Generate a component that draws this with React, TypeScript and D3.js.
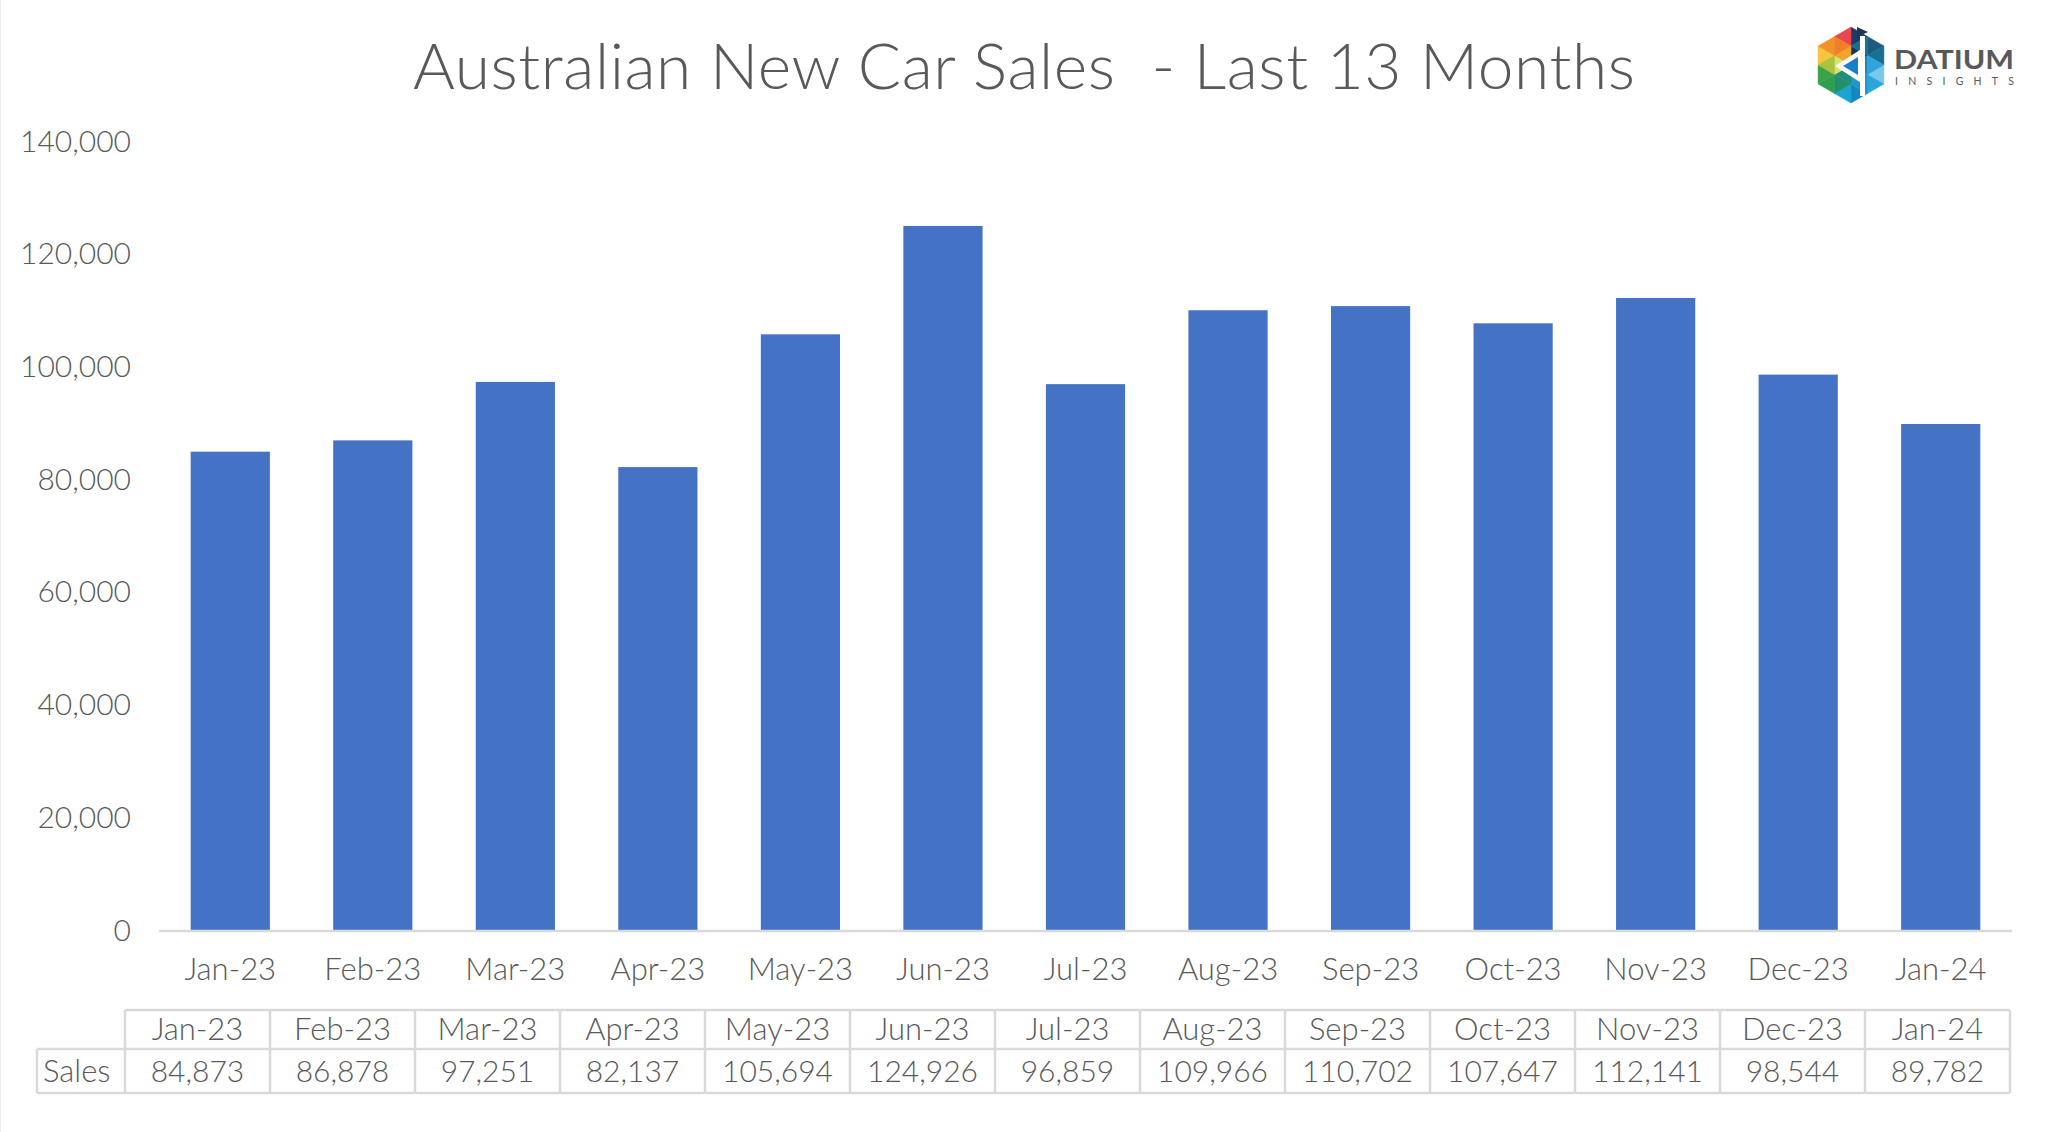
import React from "react";
import * as d3 from "d3";

const months = ["Jan-23","Feb-23","Mar-23","Apr-23","May-23","Jun-23","Jul-23","Aug-23","Sep-23","Oct-23","Nov-23","Dec-23","Jan-24"];
const sales = [84873, 86878, 97251, 82137, 105694, 124926, 96859, 109966, 110702, 107647, 112141, 98544, 89782];
const yTicks = [0, 20000, 40000, 60000, 80000, 100000, 120000, 140000];
const title = "Australian New Car Sales  - Last 13 Months";
const rowLabel = "Sales";

const W = 2048, H = 1132;
const FONT = "Lato, 'Noto Sans', sans-serif";
const TXT = "#595959";
const GRID = "#d9d9d9";
const BAR = "#4472C4";
const FW = 300;

// logo sector colours (top-right, right, bottom-right, bottom-left, left, top-left)
const logoColors = [
  ["#1d3557", "#1f3b63", "#1c5a7e", "#16708f"],
  ["#1f86b5", "#1a6f95", "#7cc8ea", "#2ea3dc"],
  ["#1b9bd1", "#2aa6dc", "#1487c2", "#1f95c8"],
  ["#1e8f78", "#1aa3d4", "#2e9e4f", "#22906a"],
  ["#d7e46a", "#3aa24b", "#f4c63d", "#a9c23f"],
  ["#f0a42a", "#f3922a", "#e8454f", "#f07f26"],
];

function Logo() {
  const cx = 1851, cy = 65, R = 38;
  const V = d3.range(6).map((k) => {
    const a = ((-90 + 60 * k) * Math.PI) / 180;
    return [cx + R * Math.cos(a), cy + R * Math.sin(a)];
  });
  const mid = (a: number[], b: number[]) => [(a[0] + b[0]) / 2, (a[1] + b[1]) / 2];
  const C = [cx, cy];
  const tris: { pts: number[][]; c: string }[] = [];
  for (let i = 0; i < 6; i++) {
    const A = V[i], B = V[(i + 1) % 6];
    const M1 = mid(C, A), M2 = mid(C, B), M3 = mid(A, B);
    const cols = logoColors[i];
    tris.push({ pts: [C, M1, M2], c: cols[0] });
    tris.push({ pts: [M1, A, M3], c: cols[1] });
    tris.push({ pts: [M2, M3, B], c: cols[2] });
    tris.push({ pts: [M1, M2, M3], c: cols[3] });
  }
  const p = (pts: number[][]) => pts.map((q) => q.join(",")).join(" ");
  return (
    <g>
      {tris.map((t, i) => (
        <polygon key={i} points={p(t.pts)} fill={t.c} stroke={t.c} strokeWidth={0.5} />
      ))}
      <polygon points={p([[1835, 66], [1863, 48], [1863, 84]])} fill="#fff" />
      <polygon points={p([[1843, 66], [1858, 57], [1858, 75]])} fill="#1a7fc9" />
      <rect x={1860} y={36} width={5} height={60} fill="#fff" />
      <polygon points={p([[1857, 27], [1868, 32], [1857, 37]])} fill="#1d3557" />
      <text x={1894} y={69} fontFamily={FONT} fontWeight={700} fontSize={26} fill="#58595b" textLength={120} lengthAdjust="spacingAndGlyphs">DATIUM</text>
      <text x={1895} y={84.5} fontFamily={FONT} fontSize={10.5} fill="#58595b" textLength={119} lengthAdjust="spacing">INSIGHTS</text>
    </g>
  );
}

export default function App() {
  const x = d3.scaleBand<string>().domain(months).range([159, 2012]).paddingInner(0.8 / 1.8).paddingOuter(0.4 / 1.8);
  const y = d3.scaleLinear().domain([0, 140000]).range([930, 141]);
  const tx = d3.scaleBand<string>().domain(months).range([125, 2010]);
  const fmt = d3.format(",");
  const tTop = 1010, tMid = 1049, tBot = 1093, tLeft = 37;

  return (
    <svg width={W} height={H} style={{ position: "absolute", left: 0, top: 0, background: "#fff" }}>
      <rect x={0} y={0} width={W} height={H} fill="#fff" />
      <line x1={0.5} y1={0} x2={0.5} y2={H} stroke="#eeeeee" />
      <text x={1024} y={89} textAnchor="middle" fontFamily={FONT} fontWeight={FW} fontSize={64} fill={TXT} textLength={1222} lengthAdjust="spacing" style={{ whiteSpace: "pre" }}>{title}</text>
      <Logo />
      {yTicks.map((t) => (
        <text key={t} x={131} y={y(t)} dy="0.35em" textAnchor="end" fontFamily={FONT} fontWeight={FW} fontSize={30} fill={TXT}>{fmt(t)}</text>
      ))}
      {months.map((m, i) => (
        <rect key={m} x={x(m)} y={y(sales[i])} width={x.bandwidth()} height={y(0) - y(sales[i])} fill={BAR} />
      ))}
      <line x1={159} x2={2012} y1={y(0) + 1} y2={y(0) + 1} stroke={GRID} strokeWidth={2.5} />
      {months.map((m) => (
        <text key={m} x={(x(m) as number) + x.bandwidth() / 2} y={969} dy="0.35em" textAnchor="middle" fontFamily={FONT} fontWeight={FW} fontSize={31} fill={TXT}>{m}</text>
      ))}
      {/* data table */}
      <g stroke={GRID} strokeWidth={2.5} fill="none">
        <line x1={125} x2={2010} y1={tTop} y2={tTop} />
        <line x1={tLeft} x2={2010} y1={tMid} y2={tMid} />
        <line x1={tLeft} x2={2010} y1={tBot} y2={tBot} />
        <line x1={tLeft} x2={tLeft} y1={tMid} y2={tBot} />
        {months.map((m) => (
          <line key={m} x1={tx(m)} x2={tx(m)} y1={tTop} y2={tBot} />
        ))}
        <line x1={2010} x2={2010} y1={tTop} y2={tBot} />
      </g>
      {months.map((m, i) => (
        <g key={m}>
          <text x={(tx(m) as number) + tx.bandwidth() / 2} y={(tTop + tMid) / 2} dy="0.35em" textAnchor="middle" fontFamily={FONT} fontWeight={FW} fontSize={31} fill={TXT}>{m}</text>
          <text x={(tx(m) as number) + tx.bandwidth() / 2} y={(tMid + tBot) / 2} dy="0.35em" textAnchor="middle" fontFamily={FONT} fontWeight={FW} fontSize={30} fill={TXT}>{fmt(sales[i])}</text>
        </g>
      ))}
      <text x={43} y={(tMid + tBot) / 2} dy="0.35em" fontFamily={FONT} fontWeight={FW} fontSize={31} fill={TXT}>{rowLabel}</text>
    </svg>
  );
}
